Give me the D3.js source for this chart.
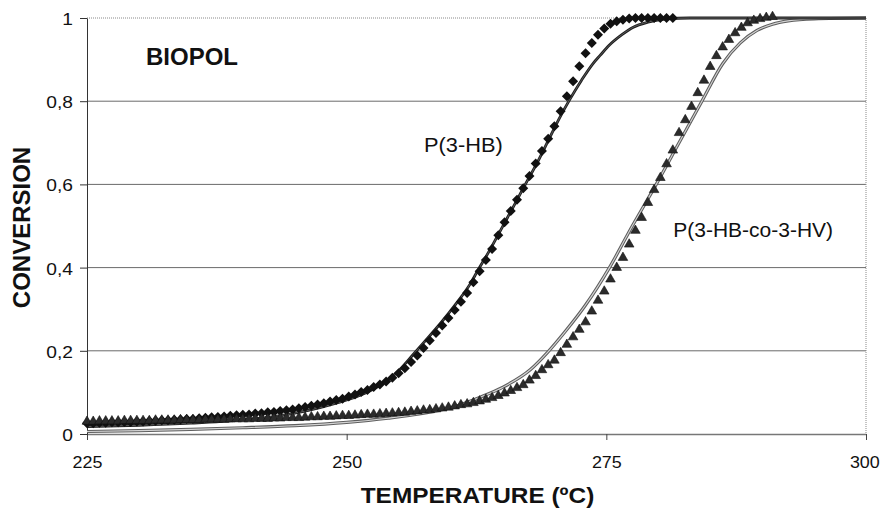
<!DOCTYPE html>
<html>
<head>
<meta charset="utf-8">
<script src="https://cdn.jsdelivr.net/npm/d3@7"></script>
<style>
  html, body { margin: 0; padding: 0; background: #fff; }
  svg { display: block; }
  text { font-family: "Liberation Sans", Arial, Helvetica, sans-serif; fill: #111; }
</style>
</head>
<body>
<svg id="chart" width="881" height="510"></svg>
<script>
// ---------------- DATA ----------------
const xTicks = [225, 250, 275, 300];
const xTickLabels = ["225", "250", "275", "300"];
const yTicks = [0, 0.2, 0.4, 0.6, 0.8, 1];
const yTickLabels = ["0", "0,2", "0,4", "0,6", "0,8", "1"];
const gridValues = [0.2, 0.4, 0.6, 0.8];

// P(3-HB) experimental points (diamonds): [temperature, conversion]
const phbPoints = [
  [225.0,0.026],[225.6,0.026],[226.2,0.027],[226.8,0.027],[227.4,0.028],[228.0,0.028],[228.6,0.029],[229.2,0.029],[229.8,0.030],[230.4,0.030],
  [231.0,0.031],[231.6,0.032],[232.2,0.033],[232.8,0.033],[233.4,0.034],[234.0,0.035],[234.6,0.036],[235.2,0.036],[235.8,0.038],[236.4,0.039],
  [237.0,0.040],[237.6,0.041],[238.2,0.042],[238.8,0.044],[239.4,0.045],[240.0,0.046],[240.6,0.047],[241.2,0.049],[241.8,0.050],[242.4,0.052],
  [243.0,0.053],[243.6,0.055],[244.2,0.057],[244.8,0.059],[245.4,0.062],[246.0,0.065],[246.6,0.068],[247.2,0.071],[247.8,0.074],[248.4,0.078],
  [249.0,0.082],[249.6,0.085],[250.2,0.090],[250.8,0.095],[251.4,0.101],[252.0,0.106],[252.6,0.113],[253.2,0.119],[253.8,0.126],[254.4,0.135],
  [255.0,0.146],[255.6,0.158],[256.2,0.173],[256.8,0.189],[257.4,0.207],[258.0,0.225],[258.6,0.243],[259.2,0.261],[259.8,0.279],[260.4,0.298],
  [261.0,0.318],[261.6,0.339],[262.2,0.365],[262.8,0.391],[263.4,0.418],[264.0,0.445],[264.6,0.478],[265.2,0.509],[265.8,0.536],[266.4,0.563],
  [267.0,0.591],[267.6,0.620],[268.2,0.650],[268.8,0.680],[269.4,0.710],[270.0,0.740],[270.6,0.776],[271.2,0.812],[271.8,0.848],[272.4,0.884],
  [273.0,0.915],[273.6,0.940],[274.2,0.960],[274.8,0.975],[275.4,0.986],[276.0,0.992],[276.6,0.996],[277.2,0.999],[277.8,1.0],[278.4,1.0],
  [279.0,1.0],[279.6,1.0],[280.2,1.0],[280.8,1.0],[281.4,1.0]
];

// P(3-HB-co-3-HV) experimental points (triangles): [temperature, conversion]
const copolyPoints = [
  [225.0,0.030],[225.6,0.030],[226.2,0.031],[226.8,0.031],[227.4,0.031],[228.0,0.031],[228.6,0.032],[229.2,0.032],[229.8,0.032],[230.4,0.032],
  [231.0,0.032],[231.6,0.033],[232.2,0.033],[232.8,0.033],[233.4,0.033],[234.0,0.034],[234.6,0.034],[235.2,0.034],[235.8,0.034],[236.4,0.035],
  [237.0,0.035],[237.6,0.035],[238.2,0.035],[238.8,0.036],[239.4,0.036],[240.0,0.036],[240.6,0.036],[241.2,0.037],[241.8,0.037],[242.4,0.037],
  [243.0,0.038],[243.6,0.038],[244.2,0.039],[244.8,0.039],[245.4,0.039],[246.0,0.040],[246.6,0.041],[247.2,0.041],[247.8,0.042],[248.4,0.042],
  [249.0,0.043],[249.6,0.044],[250.2,0.044],[250.8,0.045],[251.4,0.046],[252.0,0.047],[252.6,0.047],[253.2,0.048],[253.8,0.049],[254.4,0.050],
  [255.0,0.051],[255.6,0.052],[256.2,0.054],[256.8,0.055],[257.4,0.057],[258.0,0.058],[258.6,0.060],[259.2,0.062],[259.8,0.064],[260.4,0.067],
  [261.0,0.070],[261.6,0.072],[262.2,0.075],[262.8,0.079],[263.4,0.083],[264.0,0.087],[264.6,0.092],[265.2,0.098],[265.8,0.104],[266.4,0.111],
  [267.0,0.118],[267.6,0.129],[268.2,0.140],[268.8,0.154],[269.4,0.166],[270.0,0.177],[270.6,0.195],[271.2,0.215],[271.8,0.233],[272.4,0.251],
  [273.0,0.269],[273.6,0.295],[274.2,0.321],[274.8,0.343],[275.4,0.372],[276.0,0.400],[276.6,0.424],[277.2,0.456],[277.8,0.489],[278.4,0.520],
  [279.0,0.556],[279.6,0.587],[280.2,0.616],[280.8,0.649],[281.4,0.682],[282.0,0.724],[282.6,0.755],[283.2,0.787],[283.8,0.820],[284.4,0.850],
  [285.0,0.883],[285.6,0.909],[286.2,0.930],[286.8,0.948],[287.4,0.964],[288.0,0.977],[288.6,0.988],[289.2,0.994],[289.8,0.998],[290.4,1.001],
  [291.0,1.003]
];

// Model (fitted) curves: [temperature, conversion]
const phbModel = [
  [225,0.018],[230,0.021],[235,0.026],[240,0.034],[243,0.042],[246,0.055],[249,0.074],[251,0.090],[253,0.114],[255,0.152],
  [256.3,0.188],[257.5,0.222],[259,0.265],[260.5,0.312],[262,0.365],[262.6,0.392],[263.5,0.430],[265,0.498],[266.2,0.553],
  [267.2,0.600],[268.3,0.650],[269.5,0.710],[270.5,0.760],[271.5,0.805],[272.6,0.850],[273.7,0.890],[274.4,0.910],[275.3,0.935],
  [276.5,0.960],[277.6,0.978],[279,0.990],[280.8,0.998],[283,1.0],[290,1.0],[300,1.0]
];
const copolyModel = [
  [225,0.006],[230,0.008],[235,0.011],[240,0.015],[245,0.020],[250,0.028],[254,0.038],[257,0.048],[260,0.063],[262.8,0.088],
  [265,0.112],[267.7,0.155],[269.3,0.195],[271,0.245],[273,0.310],[275.3,0.400],[277.5,0.500],[279.8,0.600],[282,0.700],
  [284.2,0.800],[286.2,0.890],[287.9,0.940],[289.5,0.970],[291,0.985],[292.5,0.993],[295,0.998],[300,1.0]
];

// ---------------- CHART ----------------
const svg = d3.select("#chart");
const x = d3.scaleLinear().domain([225, 300]).range([87, 866]);
const y = d3.scaleLinear().domain([0, 1]).range([434, 18]);

// Gridlines
svg.append("g").selectAll("line").data(gridValues).join("line")
  .attr("x1", x(225)).attr("x2", x(300))
  .attr("y1", d => y(d)).attr("y2", d => y(d))
  .attr("stroke", "#6a6a6a").attr("stroke-width", 1);

// Plot border (top and right), dotted
svg.append("line").attr("x1", x(225)).attr("x2", x(300)).attr("y1", y(1)).attr("y2", y(1))
  .attr("stroke", "#8a8a8a").attr("stroke-width", 1).attr("stroke-dasharray", "1,1");
svg.append("line").attr("x1", x(300)).attr("x2", x(300)).attr("y1", y(1)).attr("y2", y(0))
  .attr("stroke", "#8a8a8a").attr("stroke-width", 1).attr("stroke-dasharray", "1,1");

// Axes
const xAxis = d3.axisBottom(x).tickValues(xTicks).tickFormat((d, i) => xTickLabels[i]).tickSizeInner(6).tickSizeOuter(0);
const gx = svg.append("g").attr("transform", `translate(0,${y(0)})`).call(xAxis);
gx.select(".domain").attr("stroke", "#777").attr("stroke-width", 1.5);
gx.selectAll(".tick line").attr("stroke", "#444");
gx.selectAll(".tick text")
  .attr("y", 34).attr("dy", 0)
  .attr("transform", "scale(1.12,1)")
  .style("font-size", "16px").style("font-family", "'Liberation Sans', Arial, sans-serif").attr("fill", "#111");
// keep the last label fully inside the window
gx.selectAll(".tick text").filter((d, i) => i === xTicks.length - 1).attr("x", -1.5);

const yAxis = d3.axisLeft(y).tickValues(yTicks).tickFormat((d, i) => yTickLabels[i]).tickSizeInner(7).tickSizeOuter(0);
const gy = svg.append("g").attr("transform", `translate(${x(225)},0)`).call(yAxis);
gy.select(".domain").attr("stroke", "#333").attr("stroke-width", 1);
gy.selectAll(".tick line").attr("stroke", "#333");
gy.selectAll(".tick text")
  .attr("x", -14 / 1.2).attr("dy", "0.4em")
  .attr("transform", "scale(1.2,1)")
  .style("font-size", "16px").style("font-family", "'Liberation Sans', Arial, sans-serif").attr("fill", "#111");

// Model lines
const line = d3.line().x(d => x(d[0])).y(d => y(d[1])).curve(d3.curveMonotoneX);
const lines = svg.append("g").attr("fill", "none");
lines.append("path").attr("d", line(copolyModel)).attr("stroke", "#5e5e5e").attr("stroke-width", 3.2);
lines.append("path").attr("d", line(copolyModel)).attr("stroke", "#d4d4d4").attr("stroke-width", 1.1);
lines.append("path").attr("d", line(phbModel)).attr("stroke", "#1e1e1e").attr("stroke-width", 2.8);
lines.append("path").attr("d", line(phbModel)).attr("stroke", "#6a6a6a").attr("stroke-width", 0.8);

// Markers
const diamond = d3.symbol().type(d3.symbolSquare).size(50)();
svg.append("g").selectAll("path").data(phbPoints).join("path")
  .attr("d", diamond)
  .attr("transform", d => `translate(${x(d[0])},${y(d[1])}) rotate(45)`)
  .attr("fill", "#111");

const tri = d3.symbol().type(d3.symbolTriangle).size(40)();
svg.append("g").selectAll("path").data(copolyPoints).join("path")
  .attr("d", tri)
  .attr("transform", d => `translate(${x(d[0])},${y(d[1])})`)
  .attr("fill", "#2b2b2b").attr("stroke", "#111").attr("stroke-width", 0.6);

// Texts
svg.append("text").attr("x", 146).attr("y", 65)
  .style("font-size", "24px").style("font-weight", "bold").text("BIOPOL");
svg.append("text").attr("transform", "translate(424,151.7) scale(1.09,1)")
  .style("font-size", "20px").text("P(3-HB)");
svg.append("text").attr("transform", "translate(673.3,236.7) scale(1.05,1)")
  .style("font-size", "20px").text("P(3-HB-co-3-HV)");

svg.append("text").attr("transform", "translate(477.5,503) scale(1.11,1)")
  .attr("text-anchor", "middle")
  .style("font-size", "22px").style("font-weight", "bold").text("TEMPERATURE (ºC)");
svg.append("text").attr("transform", "translate(30,227.5) rotate(-90)")
  .attr("text-anchor", "middle")
  .style("font-size", "24px").style("font-weight", "bold").text("CONVERSION");
</script>
</body>
</html>
